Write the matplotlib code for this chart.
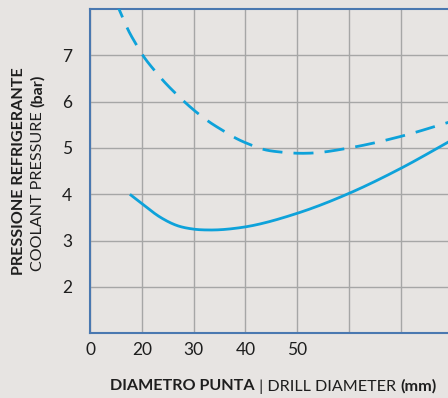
import numpy as np
import matplotlib
matplotlib.use("Agg")
import matplotlib.pyplot as plt

# data (diameter in mm, pressure in bar)
tick_mm = [0, 20, 30, 40, 50, 60, 70, 80]
tick_labels = ["0", "20", "30", "40", "50", "", ""]

solid_d = [15.4, 20, 23.5, 26.7, 29.9, 33.2, 39.0, 50, 60, 70, 80]
solid_p = [4.0, 3.80, 3.51, 3.33, 3.25, 3.23, 3.28, 3.59, 4.02, 4.56, 5.18]

dash_d = [9.0, 11.2, 14.8, 18.0, 20.2, 22.4, 24.0, 26.6, 28.3, 30.9, 32.8,
          35.9, 38.0, 41.2, 43.5, 47.0, 49.2, 52.8, 60, 70, 80]
dash_p = [8.28, 8.0, 7.54, 7.22, 7.0, 6.68, 6.47, 6.17, 5.99, 5.74, 5.58,
          5.36, 5.22, 5.06, 4.97, 4.91, 4.89, 4.89, 5.0, 5.25, 5.58]

BG = "#e7e4e2"
LINE = "#0ea2da"
SPINE = "#4a78b0"
GRID = "#a6a6a6"
TXT = "#1e1e1e"

plt.rcParams["font.family"] = ["Lato", "DejaVu Sans"]

pos = np.arange(len(tick_mm))


def fwd(d):
    return np.interp(d, tick_mm, pos)


def inv(p):
    return np.interp(p, pos, tick_mm)


def smooth(xs, ys, n=40):
    # cubic hermite through the read points, x must increase
    xs = np.asarray(xs, float)
    ys = np.asarray(ys, float)
    m = np.gradient(ys, xs)
    ox, oy = [], []
    for i in range(len(xs) - 1):
        h = xs[i + 1] - xs[i]
        t = np.linspace(0, 1, n, endpoint=False)
        h00 = 2 * t**3 - 3 * t**2 + 1
        h10 = t**3 - 2 * t**2 + t
        h01 = -2 * t**3 + 3 * t**2
        h11 = t**3 - t**2
        ox.extend(xs[i] + t * h)
        oy.extend(h00 * ys[i] + h10 * h * m[i] + h01 * ys[i + 1] + h11 * h * m[i + 1])
    ox.append(xs[-1])
    oy.append(ys[-1])
    return np.array(ox), np.array(oy)


W, H = 448, 398
fig = plt.figure(figsize=(W / 100, H / 100), dpi=100, facecolor=BG)
ax = fig.add_axes([90 / W, (H - 333.3) / H, (452.6 - 90) / W, (333.3 - 9) / H])
ax.set_facecolor(BG)
ax.set_xscale("function", functions=(fwd, inv))
ax.set_xlim(0, 80)
ax.set_ylim(1, 8)

sx, sy = smooth(fwd(solid_d), solid_p)
ax.plot(inv(sx), sy, color=LINE, lw=2.0, solid_capstyle="butt", zorder=3)
dx, dy = smooth(fwd(dash_d), dash_p)
ax.plot(inv(dx), dy, color=LINE, lw=2.0, dashes=(7.2, 4.0), dash_capstyle="butt", zorder=3)

ax.set_xticks(tick_mm[:-1])
ax.set_xticklabels(tick_labels, fontsize=12.5, color=TXT)
ax.set_yticks([2, 3, 4, 5, 6, 7])
ax.set_yticklabels(["2", "3", "4", "5", "6", "7"], fontsize=12.5, color=TXT)
ax.tick_params(length=0, pad=6)
ax.tick_params(axis="y", pad=13)
ax.grid(True, color=GRID, lw=1.0)
ax.set_axisbelow(True)
for sp in ax.spines.values():
    sp.set_color(SPINE)
    sp.set_linewidth(1.5)

fs = 11.6
fig.canvas.draw()
r = fig.canvas.get_renderer()

# x label in three parts (bold | regular | bold)
yx = (H - 386.5) / H
t1 = fig.text(110 / W, yx, "DIAMETRO PUNTA", fontsize=fs, fontweight="bold", color=TXT,
              ha="left", va="center")
x1 = t1.get_window_extent(r).x1
t2 = fig.text(x1 / W, yx, " | DRILL DIAMETER ", fontsize=fs, color=TXT, ha="left", va="center")
x2 = t2.get_window_extent(r).x1
fig.text(x2 / W, yx, "(mm)", fontsize=fs, fontweight="bold", color=TXT, ha="left", va="center")

# y label: bold line and regular line with bold unit
fig.text(19 / W, (H - 171) / H, "PRESSIONE REFRIGERANTE", fontsize=fs, fontweight="bold",
         color=TXT, rotation=90, ha="center", va="center")
y0 = 271
u1 = fig.text(38 / W, (H - y0) / H, "COOLANT PRESSURE ", fontsize=fs, color=TXT,
              rotation=90, ha="center", va="bottom")
top = u1.get_window_extent(r).y1
fig.text(38 / W, top / H, "(bar)", fontsize=fs, fontweight="bold", color=TXT,
         rotation=90, ha="center", va="bottom")

fig.savefig("out.png", dpi=100, facecolor=BG)
